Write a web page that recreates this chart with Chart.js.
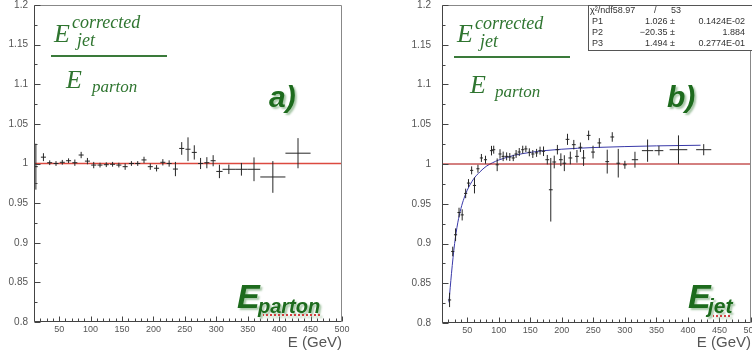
<!DOCTYPE html>
<html>
<head>
<meta charset="utf-8">
<script src="https://cdn.jsdelivr.net/npm/chart.js@4"></script>
<style>
html,body{margin:0;padding:0;background:#fff;overflow:hidden;}
body{position:relative;width:752px;height:360px;}
canvas{position:absolute;top:0;}
.t{position:absolute;line-height:1;white-space:nowrap;}
.fr{font-family:"Liberation Serif",serif;font-style:italic;color:#2f7530;}
.bar{position:absolute;height:2px;background:#3a7a3a;}
.big{font-family:"Liberation Sans",Arial,sans-serif;font-weight:bold;font-style:italic;color:#1d6b1d;text-shadow:2px 2px 2px #a8c8a8;}
.st{font-family:"Liberation Sans",Arial,sans-serif;font-size:9px;color:#333;}
.box{position:absolute;left:588px;top:5px;width:170px;height:46px;border:1px solid #555;background:#fff;box-sizing:border-box;}
</style>
</head>
<body>
<canvas id="ca" width="376" height="360" style="left:0"></canvas>
<canvas id="cb" width="400" height="360" style="left:376px"></canvas>

<!-- a) -->
<div class="t fr" style="left:54px;top:21px;font-size:26px">E</div>
<div class="t fr" style="left:72px;top:13px;font-size:18px">corrected</div>
<div class="t fr" style="left:77px;top:31px;font-size:18px">jet</div>
<div class="bar" style="left:51px;top:55px;width:116px"></div>
<div class="t fr" style="left:66px;top:67px;font-size:26px">E</div>
<div class="t fr" style="left:92px;top:78px;font-size:17px">parton</div>
<div class="t big" style="left:269px;top:82px;font-size:30px">a)</div>
<div class="t big" style="left:237px;top:279px;font-size:34px">E</div>
<div class="t big" style="left:258px;top:296px;font-size:20px;text-decoration:underline dotted #d04040">parton</div>

<!-- b) -->
<div class="t fr" style="left:457px;top:21px;font-size:26px">E</div>
<div class="t fr" style="left:475px;top:14px;font-size:18px">corrected</div>
<div class="t fr" style="left:480px;top:32px;font-size:18px">jet</div>
<div class="bar" style="left:454px;top:56px;width:116px"></div>
<div class="t fr" style="left:470px;top:72px;font-size:26px">E</div>
<div class="t fr" style="left:495px;top:83px;font-size:17px">parton</div>
<div class="t big" style="left:667px;top:82px;font-size:30px">b)</div>
<div class="t big" style="left:688px;top:279px;font-size:34px">E</div>
<div class="t big" style="left:708px;top:295px;font-size:21px;text-decoration:underline dotted #d04040">jet</div>

<div class="box"></div>
<div class="t st" style="left:590px;top:6px">χ²/ndf58.97</div>
<div class="t st" style="left:654px;top:6px">/</div>
<div class="t st" style="left:671px;top:6px">53</div>
<div class="t st" style="left:592px;top:17px">P1</div>
<div class="t st" style="right:77px;top:17px">1.026 ±</div>
<div class="t st" style="right:7px;top:17px">0.1424E-02</div>
<div class="t st" style="left:592px;top:28px">P2</div>
<div class="t st" style="right:77px;top:28px">−20.35 ±</div>
<div class="t st" style="right:7px;top:28px">1.884</div>
<div class="t st" style="left:592px;top:39px">P3</div>
<div class="t st" style="right:77px;top:39px">1.494 ±</div>
<div class="t st" style="right:7px;top:39px">0.2774E-01</div>

<script>
'use strict';

// 軸の目盛り
const xTicks = [50, 100, 150, 200, 250, 300, 350, 400, 450, 500];
const yTicks = [0.8, 0.85, 0.9, 0.95, 1, 1.05, 1.1, 1.15, 1.2];
const yTickLabels = ['0.8', '0.85', '0.9', '0.95', '1', '1.05', '1.1', '1.15', '1.2'];
const refLine = 1;

// a) E_parton
const aE = [13, 25, 35, 45, 55, 65, 75, 85, 95, 105,
	115, 125, 135, 145, 155, 165, 175, 185, 195, 205,
	215, 225, 235, 245, 255, 265, 275, 285, 295, 305,
	320, 340, 360, 390, 430];
const aR = [0.996, 1.008, 1.001, 1.000, 1.0015, 1.0035, 1.001, 1.0107, 1.003, 0.998,
	0.998, 0.9985, 0.999, 0.998, 0.996, 1.000, 1.000, 1.0045, 0.996, 0.994,
	1.0015, 1.000, 0.993, 1.019, 1.018, 1.014, 1.000, 1.001, 1.0035, 0.990,
	0.9927, 0.9927, 0.9927, 0.983, 1.013];
const aEx = [3, 4, 4, 4, 4, 4, 4, 4, 4, 4,
	4, 4, 4, 4, 4, 4, 4, 4, 4, 4,
	4, 4, 4, 4, 4, 4, 4, 4, 4, 5,
	10, 10, 10, 20, 20];
const aEy = [0.029, 0.005, 0.003, 0.003, 0.003, 0.003, 0.004, 0.004, 0.004, 0.004,
	0.003, 0.003, 0.003, 0.003, 0.004, 0.003, 0.003, 0.004, 0.004, 0.004,
	0.004, 0.004, 0.009, 0.008, 0.015, 0.009, 0.007, 0.007, 0.007, 0.0085,
	0.006, 0.008, 0.015, 0.02, 0.019];

// b) E_jet
const bE = [22, 27, 31.5, 37, 42, 47.5, 52, 57, 61.5, 67,
	72.5, 79, 88.5, 92, 97.5, 102, 107, 112.5, 117.5, 123,
	127.5, 132.5, 138, 143, 148.5, 154, 160, 165.5, 171, 177,
	182.5, 188, 193, 198.5, 204, 209, 213.5, 219, 224, 229.5,
	234.5, 242.5, 249.5, 259.5, 272, 280, 289.5, 300, 316, 336,
	354, 385, 425];
const bR = [0.829, 0.890, 0.911, 0.939, 0.936, 0.963, 0.976, 0.992, 0.973, 0.994,
	1.0076, 1.0054, 1.0168, 1.018, 0.999, 1.0126, 1.0096, 1.0096, 1.0088, 1.0076,
	1.0126, 1.0151, 1.018, 1.019, 1.0147, 1.0126, 1.014, 1.0168, 1.016, 1.0054,
	0.9676, 1.0025, 1.018, 1.0054, 1.001, 1.031, 1.0076, 1.0243, 1.0096, 1.021,
	1.0076, 1.036, 1.015, 1.0265, 1.003, 1.034, 1.001, 0.999, 1.0054, 1.0168,
	1.0168, 1.018, 1.018];
const bEx = [2.5, 2.5, 2.5, 2.5, 2.5, 2.5, 2.5, 2.5, 2.5, 2.5,
	2.5, 2.5, 2.5, 2.5, 2.5, 2.5, 2.5, 2.5, 2.5, 2.5,
	2.5, 2.5, 2.5, 2.5, 2.5, 2.5, 2.5, 2.5, 2.5, 3,
	3, 3, 3, 3, 3, 3, 3, 3, 3, 3,
	3, 3, 3, 3, 3, 3, 3, 3, 5, 9,
	7, 14, 12];
const bEy = [0.009, 0.006, 0.008, 0.006, 0.007, 0.006, 0.005, 0.005, 0.01, 0.005,
	0.005, 0.005, 0.006, 0.005, 0.008, 0.006, 0.006, 0.005, 0.005, 0.004,
	0.005, 0.005, 0.005, 0.004, 0.005, 0.005, 0.005, 0.005, 0.006, 0.006,
	0.04, 0.008, 0.006, 0.008, 0.01, 0.007, 0.008, 0.006, 0.008, 0.006,
	0.01, 0.006, 0.008, 0.006, 0.015, 0.006, 0.018, 0.005, 0.01, 0.014,
	0.006, 0.018, 0.007];

// フィット曲線(図から読んだ値)
const fitE = [21, 25, 30, 35, 40, 45, 50, 60, 70, 80, 90, 100, 125, 150, 175, 200, 250, 300, 350, 420];
const fitR = [0.826, 0.862, 0.900, 0.926, 0.944, 0.957, 0.967, 0.981, 0.990, 0.997,
	1.0015, 1.005, 1.011, 1.0146, 1.017, 1.0186, 1.0207, 1.0219, 1.0228, 1.0236];

// 誤差棒を十字の線分にする
function crosses(e, r, ex, ey) {
	let pts = [];
	for (let i = 0; i < e.length; i++) {
		pts.push({x: e[i] - ex[i], y: r[i]}, {x: e[i] + ex[i], y: r[i]}, {x: e[i], y: null});
		pts.push({x: e[i], y: r[i] - ey[i]}, {x: e[i], y: r[i] + ey[i]}, {x: e[i], y: null});
	}
	return pts;
}

// 枠と内向きの目盛り
const frame = {
	id: 'frame',
	afterDatasetsDraw(chart) {
		const ctx = chart.ctx;
		const a = chart.chartArea;
		const x = chart.scales.x, y = chart.scales.y;
		const L = Math.round(a.left) + 0.5, R = Math.round(a.right) - 0.5;
		const T = Math.round(a.top) + 0.5, B = Math.round(a.bottom) - 0.5;
		ctx.save();
		ctx.lineWidth = 1;
		ctx.strokeStyle = '#888';
		ctx.beginPath();
		ctx.moveTo(L, T); ctx.lineTo(R, T); ctx.lineTo(R, B);
		ctx.stroke();
		ctx.strokeStyle = '#444';
		ctx.beginPath();
		ctx.moveTo(L, T); ctx.lineTo(L, B); ctx.lineTo(R, B);
		for (let v = 10; v <= 500; v += 10) {
			const px = Math.round(x.getPixelForValue(v)) + 0.5;
			const len = v % 50 === 0 ? 5 : 3;
			ctx.moveTo(px, B); ctx.lineTo(px, B - len);
		}
		for (let k = 0; k <= 16; k++) {
			const py = Math.round(y.getPixelForValue(0.8 + k * 0.025)) + 0.5;
			const len = k % 2 === 0 ? 6 : 3;
			ctx.moveTo(L, py); ctx.lineTo(L + len, py);
		}
		ctx.stroke();
		ctx.restore();
	}
};

function makeChart(id, opt, datasets) {
	return new Chart(document.getElementById(id), {
		type: 'scatter',
		data: {datasets: datasets},
		options: {
			responsive: false,
			animation: false,
			events: [],
			layout: {padding: {top: 5, right: opt.padRight, left: 0, bottom: 0}},
			plugins: {legend: {display: false}, tooltip: {enabled: false}},
			scales: {
				x: {
					type: 'linear', min: 10, max: 500,
					grid: {display: false, drawTicks: false},
					border: {display: false},
					afterBuildTicks: (s) => { s.ticks = xTicks.map(v => ({value: v})); },
					afterFit: (s) => { s.height = opt.xH; s.paddingLeft = 0; s.paddingRight = 0; },
					ticks: {padding: 2, color: '#555', maxRotation: 0, autoSkip: false,
						font: {family: 'Liberation Sans', size: 9}, callback: (v) => String(v)},
					title: {display: true, text: 'E (GeV)', align: 'end', color: '#555',
						padding: {top: 0, bottom: 8}, font: {family: 'Liberation Sans', size: 15}}
				},
				y: {
					type: 'linear', min: 0.8, max: 1.2,
					grid: {display: false, drawTicks: false},
					border: {display: false},
					afterBuildTicks: (s) => { s.ticks = yTicks.map(v => ({value: v})); },
					afterFit: (s) => { s.width = opt.yW; s.paddingTop = 0; s.paddingBottom = 0; },
					ticks: {padding: opt.yPad, color: '#555', autoSkip: false,
						font: {family: 'Liberation Sans', size: 10},
						callback: (v, i) => yTickLabels[i]}
				}
			}
		},
		plugins: [frame]
	});
}

const lineStyle = {showLine: true, pointRadius: 0, borderWidth: 1, spanGaps: false};

makeChart('ca', {padRight: 34, xH: 38, yW: 34, yPad: 6}, [
	Object.assign({data: crosses(aE, aR, aEx, aEy), borderColor: '#262626'}, lineStyle),
	Object.assign({}, lineStyle, {data: [{x: 10, y: refLine}, {x: 500, y: refLine}], borderColor: '#dc4a40', borderWidth: 1.4})
]);

makeChart('cb', {padRight: 25, xH: 37, yW: 66, yPad: 11}, [
	Object.assign({data: crosses(bE, bR, bEx, bEy), borderColor: '#262626'}, lineStyle),
	Object.assign({data: [{x: 10, y: refLine}, {x: 500, y: refLine}], borderColor: '#a80000'}, lineStyle),
	Object.assign({data: fitE.map((e, i) => ({x: e, y: fitR[i]})), borderColor: '#3838a8',
		cubicInterpolationMode: 'monotone'}, lineStyle)
]);
</script>
</body>
</html>
